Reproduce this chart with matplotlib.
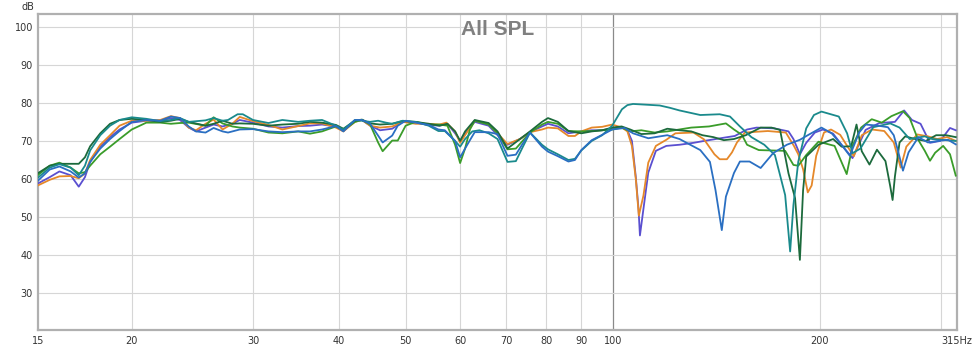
import matplotlib
matplotlib.use("Agg")
import matplotlib.pyplot as plt

# ---------------- data ----------------
x_ticks = [20, 30, 40, 50, 60, 70, 80, 90, 100, 200]
x_tick_labels = ["20", "30", "40", "50", "60", "70", "80", "90", "100", "200"]
x_grid = [20, 30, 40, 50, 60, 70, 80, 90, 200, 300]
y_ticks = [30, 40, 50, 60, 70, 80, 90, 100]
x_start, x_end = 14.6, 316.0
start_label, end_label = "15", "315Hz"

purple_f = [14.6, 15.2, 15.7, 16.3, 16.75, 17.1, 17.4, 18.0, 18.6, 19.2, 20.0, 21.0, 22.0, 22.8, 23.5, 24.2, 24.8,
            25.6, 26.3, 27.1, 28.0, 28.7, 30.0, 31.6, 33.1, 34.9, 36.3, 37.8, 39.6, 40.6, 42.2, 43.2, 44.4, 45.9,
            47.8, 49.5, 51.7, 54.0, 56.0, 57.5, 59.0, 60.0, 61.0, 63.0, 66.0, 68.0, 70.3, 73.3, 75.8, 78.9, 80.5,
            83.2, 86.2, 90.0, 93.2, 96.5, 99.8, 103.1, 105.0, 106.6, 108.0, 109.0, 109.5, 110.8, 112.6, 115.5,
            119.6, 125.0, 131.0, 135.7, 145.6, 150.4, 156.7, 161.8, 171.6, 180.0, 183.0, 187.0, 191.0, 196.6,
            202.0, 209.0, 216.0, 223.0, 233.0, 244.0, 257.0, 265.0, 272.0, 280.0, 289.0, 299.0, 309.0, 315.0]
purple_db = [58.8, 60.5, 62.0, 61.0, 58.0, 60.5, 64.5, 68.5, 71.0, 73.0, 74.8, 75.3, 75.3, 76.0, 75.5, 73.5, 72.5,
             73.5, 74.3, 73.8, 74.5, 75.5, 74.8, 73.8, 73.5, 73.9, 74.0, 74.3, 73.8, 72.6, 75.3, 75.5, 74.0, 72.8,
             73.2, 75.0, 74.8, 74.2, 74.0, 74.5, 72.0, 70.0, 72.0, 75.0, 74.0, 71.5, 69.0, 70.5, 72.3, 73.8, 74.5,
             73.8, 72.0, 72.5, 72.8, 72.8, 73.3, 73.5, 72.8, 70.0, 60.5, 52.0, 45.2, 52.2, 61.7, 67.4,
             68.7, 69.0, 69.5, 70.0, 70.9, 71.3, 73.0, 73.5, 73.3, 72.5, 70.5, 66.5, 69.5, 72.2,
             73.0, 71.9, 68.5, 65.5, 72.9, 74.7, 75.0, 78.0, 75.5, 74.5, 69.5, 70.0, 73.4, 72.8]

orange_f = [14.6, 15.2, 15.7, 16.3, 16.75, 17.1, 17.4, 18.0, 18.6, 19.2, 20.0, 21.0, 22.0, 22.8, 23.5, 24.2, 24.8,
            25.6, 26.3, 27.1, 28.0, 28.7, 30.0, 31.6, 33.1, 34.9, 36.3, 37.8, 39.6, 40.6, 42.2, 43.2, 44.4, 45.9,
            47.8, 49.5, 51.7, 54.0, 56.0, 57.3, 59.0, 60.0, 61.0, 63.0, 66.0, 68.0, 70.3, 73.3, 75.8, 78.9, 80.5,
            83.2, 86.2, 88.1, 90.0, 93.2, 96.5, 99.8, 103.1, 105.0, 106.6, 108.0, 109.1, 110.8, 112.6, 115.5,
            119.6, 123.3, 131.0, 135.7, 140.5, 143.0, 146.5, 149.0, 151.5, 155.6, 168.0, 178.4, 183.3, 186.0,
            189.0, 192.0, 194.5, 197.5, 202.7, 207.5, 214.0, 219.0, 224.0, 230.0, 238.0, 248.0, 256.0, 262.0,
            267.0, 277.0, 287.0, 296.0, 306.0, 315.0]
orange_db = [58.3, 59.8, 60.7, 60.8, 60.2, 61.5, 65.0, 69.0, 71.5, 74.0, 75.3, 75.3, 75.5, 76.5, 76.0, 73.5, 72.8,
             74.5, 75.6, 73.0, 74.5, 76.3, 75.2, 74.2, 73.0, 73.9, 74.6, 74.6, 73.5, 72.5, 75.0, 75.5, 74.0, 73.5,
             73.8, 75.0, 74.5, 74.5, 74.3, 74.8, 72.5, 69.5, 71.5, 75.3, 74.5, 72.0, 69.2, 70.5, 72.3, 73.0, 73.5,
             73.3, 71.3, 71.3, 72.5, 73.5, 73.7, 74.3, 73.5, 72.5, 68.7, 60.0, 50.4, 55.7, 64.3, 68.7,
             70.3, 72.0, 72.2, 70.4, 66.5, 65.2, 65.2, 67.0, 69.6, 72.2, 72.6, 72.2, 68.7, 66.5,
             62.6, 56.5, 58.3, 66.1, 72.2, 73.0, 71.6, 68.7, 66.0, 71.5, 73.0, 72.6, 69.6, 63.0,
             68.5, 71.7, 71.2, 70.5, 71.0, 70.0]

blue_f = [14.6, 15.2, 15.7, 16.3, 16.75, 17.1, 17.4, 18.0, 18.6, 19.2, 20.0, 21.0, 22.0, 22.8, 23.5, 24.2, 24.8,
          25.6, 26.3, 27.1, 27.6, 28.7, 30.0, 31.6, 33.1, 34.9, 36.3, 37.8, 39.6, 40.6, 42.2, 43.2, 44.4, 45.6,
          46.3, 47.8, 48.7, 50.0, 51.7, 54.0, 55.8, 57.0, 59.0, 60.0, 61.0, 62.0, 63.0, 66.0, 68.0, 70.3, 72.3,
          73.8, 75.8, 78.9, 80.5, 83.2, 86.2, 88.1, 90.0, 93.2, 96.5, 99.8, 104.0, 107.0, 112.6, 120.0, 125.0,
          134.0, 138.4, 141.0, 144.0, 146.0, 150.0, 153.0, 158.0, 164.0, 171.0, 179.0, 187.0, 192.0, 201.0,
          208.0, 216.0, 221.0, 228.0, 233.0, 243.0, 251.0, 256.0, 260.0, 264.0, 269.0, 278.0, 287.0, 297.0,
          307.0, 315.0]
blue_db = [59.5, 62.5, 63.3, 62.0, 60.4, 61.5, 64.5, 68.0, 70.5, 72.6, 75.0, 75.5, 75.3, 76.4, 76.0, 73.8, 72.5,
           72.2, 73.4, 72.5, 72.2, 73.0, 73.1, 72.5, 72.3, 72.5, 72.5, 73.0, 73.9, 72.5, 75.5, 75.5, 74.5, 71.4,
           69.6, 71.4, 74.0, 75.3, 74.8, 74.2, 73.0, 72.8, 70.0, 65.7, 68.0, 70.2, 72.3, 72.3, 71.8, 66.1, 66.4,
           69.0, 72.2, 68.5, 67.2, 66.0, 64.6, 65.0, 67.6, 70.2, 71.6, 73.0, 73.4, 72.0, 70.7, 71.5, 70.5,
           67.6, 64.5, 57.1, 46.6, 55.4, 61.6, 64.6, 64.6, 62.9, 66.8, 69.0, 70.3, 71.5, 73.5,
           72.0, 68.5, 66.1, 72.2, 74.3, 74.0, 73.6, 71.5, 67.0, 62.2, 67.0, 71.0, 69.6, 70.0,
           70.3, 69.1]

teal_f = [14.6, 15.2, 15.7, 16.3, 16.75, 17.1, 17.4, 18.0, 18.6, 19.2, 20.0, 21.0, 22.0, 22.8, 23.5, 24.2, 25.6,
          26.3, 27.1, 27.6, 28.5, 29.0, 30.0, 31.6, 33.1, 34.9, 36.3, 37.8, 39.6, 40.6, 42.2, 43.2, 44.4, 45.6,
          46.8, 47.8, 49.5, 51.7, 54.0, 55.8, 57.0, 59.0, 60.0, 61.0, 62.5, 64.0, 66.0, 68.0, 70.3, 72.3, 73.8,
          75.8, 78.9, 80.5, 83.2, 86.2, 88.1, 90.0, 93.2, 96.5, 99.8, 103.1, 105.0, 107.0, 112.0, 117.0, 121.0,
          125.0, 134.0, 143.0, 148.0, 153.0, 159.0, 166.0, 172.0, 178.0, 181.0, 183.0, 186.0, 191.0, 196.0,
          201.0, 213.0, 219.0, 223.0, 229.0, 239.0, 253.0, 261.0, 270.0, 284.0, 291.0, 305.0, 315.0]
teal_db = [60.3, 63.0, 63.9, 63.0, 61.0, 63.5, 67.5, 71.5, 74.0, 75.5, 76.2, 75.8, 75.2, 75.5, 76.0, 75.0, 75.4,
           76.0, 75.3, 75.5, 77.0, 77.0, 75.5, 74.7, 75.5, 75.0, 75.3, 75.5, 74.0, 73.0, 75.5, 75.3, 75.0, 75.3,
           74.8, 74.5, 75.3, 75.0, 74.0, 72.6, 72.6, 70.0, 68.5, 70.5, 72.5, 72.8, 72.0, 70.5, 64.5, 64.7, 68.0,
           72.2, 69.0, 67.8, 66.5, 65.0, 65.3, 67.5, 70.0, 71.5, 74.0, 78.3, 79.4, 79.7, 79.5, 79.3, 78.7,
           78.0, 76.8, 77.0, 76.4, 73.8, 71.0, 69.0, 66.3, 55.8, 41.0, 53.2, 64.6, 73.3, 76.8,
           77.7, 76.4, 72.0, 66.8, 68.0, 73.6, 74.6, 73.5, 70.5, 71.2, 70.5, 70.2, 70.0]

green_f = [14.6, 15.2, 15.7, 16.3, 16.75, 17.1, 17.4, 18.0, 18.6, 19.2, 20.0, 21.0, 22.0, 22.8, 23.5, 24.2, 25.6,
           26.3, 27.1, 28.0, 28.7, 30.0, 31.6, 33.1, 34.9, 36.3, 37.8, 39.6, 40.6, 42.2, 43.2, 44.4, 45.6, 46.3,
           47.8, 48.7, 50.0, 51.7, 54.0, 56.0, 57.5, 59.0, 60.0, 61.0, 62.0, 63.0, 66.0, 68.0, 70.3, 72.3, 75.8,
           78.9, 80.5, 83.2, 86.2, 90.0, 93.2, 96.5, 99.8, 103.0, 106.0, 110.0, 115.0, 120.0, 130.0, 138.0,
           146.0, 150.0, 154.0, 156.7, 163.0, 178.0, 183.0, 186.0, 191.0, 199.0, 210.0, 218.7, 223.0, 229.5,
           237.8, 246.0, 254.0, 264.0, 270.0, 277.6, 284.0, 289.0, 294.0, 302.0, 309.0, 315.0]
green_db = [61.0, 63.5, 64.3, 63.0, 61.5, 61.8, 63.5, 66.5, 68.5, 70.5, 73.0, 74.8, 74.8, 74.5, 74.7, 74.8, 74.0,
            76.2, 74.6, 73.8, 73.5, 73.2, 72.2, 72.0, 72.5, 71.9, 72.5, 73.8, 72.8, 75.0, 75.5, 74.3, 69.6, 67.3,
            70.1, 70.1, 74.0, 75.0, 74.3, 74.3, 74.0, 69.0, 64.2, 68.0, 73.0, 75.3, 74.3, 72.0, 67.8, 68.0, 72.2,
            74.3, 75.0, 74.5, 72.6, 72.5, 72.6, 72.8, 73.0, 73.5, 72.5, 72.8, 72.2, 72.5, 73.5, 73.8,
            74.6, 73.0, 71.6, 69.0, 67.6, 67.4, 63.7, 63.5, 66.3, 69.8, 68.7, 61.3, 68.7, 73.5,
            75.7, 74.8, 76.5, 77.8, 76.0, 70.4, 67.4, 64.8, 66.9, 68.7, 66.5, 60.9]

dkgreen_f = [14.6, 15.2, 15.7, 16.3, 16.75, 17.1, 17.4, 18.0, 18.6, 19.2, 20.0, 21.0, 22.0, 22.8, 23.5, 24.2, 25.6,
             26.3, 27.1, 28.0, 28.7, 30.0, 31.6, 33.1, 34.9, 36.3, 37.8, 39.6, 40.6, 42.2, 43.2, 44.4, 45.9, 47.8,
             49.5, 51.7, 54.0, 56.0, 57.5, 59.0, 60.0, 61.0, 63.0, 66.0, 68.0, 70.3, 73.3, 75.8, 78.9, 80.5, 83.2,
             86.2, 90.0, 93.2, 96.5, 99.8, 103.0, 106.0, 110.0, 115.0, 120.0, 125.0, 130.0, 135.0, 140.0, 145.0,
             150.0, 156.0, 164.0, 170.0, 175.0, 180.0, 184.0, 187.0, 189.0, 191.0, 199.0, 209.0, 215.0, 222.0,
             226.0, 230.0, 236.0, 242.0, 249.0, 253.0, 255.0, 257.0, 261.0, 266.0, 275.0, 285.0, 295.0, 305.0, 315.0]
dkgreen_db = [61.5, 63.5, 64.0, 64.0, 64.0, 65.7, 68.6, 72.0, 74.5, 75.5, 75.8, 75.5, 75.0, 75.3, 75.8, 75.0, 74.0,
              74.5, 75.3, 74.5, 74.6, 74.5, 74.0, 74.3, 74.5, 75.0, 74.8, 74.2, 73.2, 75.3, 75.6, 74.6, 74.3, 74.5,
              75.2, 75.0, 74.5, 74.0, 74.5, 72.5, 70.0, 72.5, 75.5, 74.7, 72.5, 68.0, 70.5, 72.5, 75.0, 76.0, 75.0,
              72.6, 72.0, 72.5, 72.8, 73.5, 73.8, 73.0, 71.8, 72.0, 73.2, 72.8, 72.5, 71.5, 71.0, 70.2,
              70.5, 71.5, 73.5, 73.5, 72.9, 61.5, 55.0, 38.8, 57.0, 65.9, 69.0, 70.5, 68.5, 68.6,
              74.3, 67.3, 63.8, 67.7, 64.7, 58.1, 54.5, 60.7, 69.6, 71.2, 70.5, 70.0, 71.5, 71.5, 71.0]

series = [
    (purple_f, purple_db, "#5a4fd0"),
    (orange_f, orange_db, "#e5882a"),
    (green_f, green_db, "#3a9c2a"),
    (dkgreen_f, dkgreen_db, "#1c6a3c"),
    (teal_f, teal_db, "#1a8a8c"),
    (blue_f, blue_db, "#2a6fc2"),
]

# ---------------- figure ----------------
fig = plt.figure(figsize=(9.75, 3.5), dpi=100)
ax = fig.add_axes([37.7 / 975, 1 - 330 / 350, (956.7 - 37.7) / 975, (330 - 14) / 350])

for f, db, c in series:
    ax.plot(f, db, color=c, lw=1.3, solid_joinstyle="round", zorder=3)

ax.set_xscale("log")
ax.set_xlim(x_start, x_end)
ax.set_ylim(20.4, 103.3)

for g in x_grid:
    ax.axvline(g, color="#d6d6d6", lw=0.8, zorder=1)
ax.axvline(100, color="#8a8a8a", lw=0.9, zorder=1)
for t in y_ticks:
    ax.axhline(t, color="#d6d6d6", lw=0.8, zorder=1)

ax.minorticks_off()
ax.set_xticks([x_start] + x_ticks + [x_end])
ax.set_xticklabels([start_label] + x_tick_labels + [end_label])
ax.set_yticks(y_ticks)
ax.set_yticklabels([str(t) for t in y_ticks])
ax.tick_params(axis="both", length=0, labelsize=7, labelcolor="#333333")
ax.tick_params(axis="x", pad=4)
ax.tick_params(axis="y", pad=3.5)

for s in ax.spines.values():
    s.set_color("#b0b0b0")
    s.set_linewidth(1.6)

ax.text(0.5, 0.95, "All SPL", transform=ax.transAxes, ha="center", va="center",
        fontsize=15, fontweight="bold", color="#808080", family="Liberation Sans", zorder=4)
fig.text(27.5 / 975, 1 - 6.7 / 350, "dB", ha="center", va="center", fontsize=7, color="#333333")

fig.savefig("out.png", dpi=100, facecolor="white")
